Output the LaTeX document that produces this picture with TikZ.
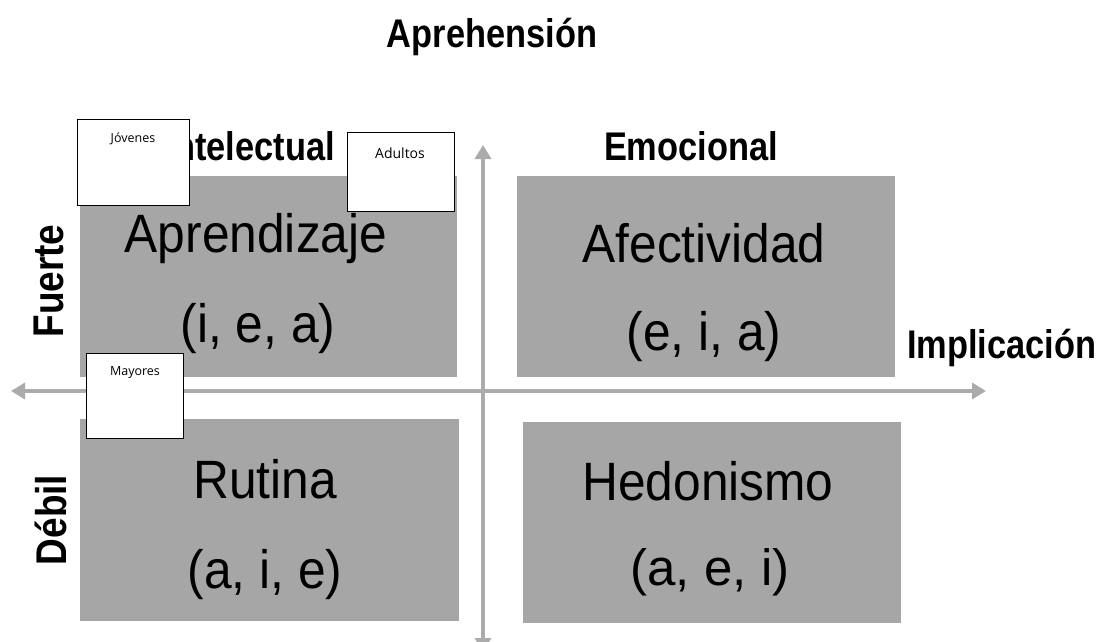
\documentclass[tikz,border=0pt]{standalone}
\usepackage{fontspec}
\setmainfont{Liberation Sans}
\newfontfamily\boldnarrow[FakeStretch=0.86]{Liberation Sans}
\newfontfamily\quadfont[FakeStretch=0.92]{Liberation Sans}
\newfontfamily\tagfont{Open Sans}
\usetikzlibrary{arrows.meta}
\definecolor{quadgray}{HTML}{A6A6A6}
\definecolor{axisgray}{HTML}{ABABAB}
\begin{document}
\begin{tikzpicture}[x=1pt,y=-1pt,
  quad/.style={fill=quadgray, draw=none},
  axisline/.style={draw=axisgray, line width=4pt, {Triangle[length=14pt,width=16pt]}-{Triangle[length=14pt,width=16pt]}},
  lab/.style={font=\boldnarrow\bfseries\fontsize{40}{44}\selectfont, inner sep=0pt},
  sidelab/.style={font=\boldnarrow\bfseries\fontsize{43}{47}\selectfont, inner sep=0pt, rotate=90, anchor=base},
  bigtxt/.style={font=\quadfont\fontsize{54}{60}\selectfont, inner sep=0pt, anchor=base},
  tagbox/.style={draw=black, line width=1pt, fill=white, anchor=north west, inner sep=0pt},
  tagtxt/.style={font=\tagfont, inner sep=0pt}]
\useasboundingbox (0,0) rectangle (1105,642);
\clip (0,0) rectangle (1105,642);

% quadrants
\fill[quad] (80,176) rectangle (457,377);
\fill[quad] (517,176) rectangle (895,377);
\fill[quad] (80,419) rectangle (459,621);
\fill[quad] (523,422) rectangle (901,623);

% axes
\coordinate (hl) at (11,391);
\coordinate (hr) at (986,391);
\coordinate (vt) at (483,145);
\coordinate (vb) at (483,652);
\draw[axisline] (hl) -- (hr);
\draw[axisline] (vb) -- (vt);

% labels
\node[lab, anchor=base] (aprehension) at (492,48) {Aprehensión};
\node[lab, anchor=base east] (intelectual) at (335,160) {Intelectual};
\node[lab, anchor=base] (emocional) at (691,160) {Emocional};
\node[lab, anchor=base west] (implicacion) at (907,358) {Implicación};
\node[sidelab] (fuerte) at (63,281) {Fuerte};
\node[sidelab] (debil) at (66,520) {Débil};

% quadrant texts
\node[bigtxt] (aprendizaje) at (256,252) {Aprendizaje};
\node[bigtxt] (iea) at (258,342) {(i, e, a)};
\node[bigtxt] (afectividad) at (704,262) {Afectividad};
\node[bigtxt] (eia) at (704,350) {(e, i, a)};
\node[bigtxt] (rutina) at (265,498) {Rutina};
\node[bigtxt] (aie) at (265,588) {(a, i, e)};
\node[bigtxt] (hedonismo) at (708,500) {Hedonismo};
\node[font=\fontsize{51}{56}\selectfont, inner sep=0pt, anchor=base] (aei) at (710,585) {(a, e, i)};

% tag boxes
\node[tagbox, minimum width=112pt, minimum height=86pt] (jovbox) at (77,119) {};
\node[tagtxt, font=\tagfont\fontsize{12.5}{14}\selectfont] (jovenes) at (133,139) {Jóvenes};
\node[tagbox, minimum width=107pt, minimum height=79pt] (adubox) at (347,132) {};
\node[tagtxt, font=\tagfont\fontsize{14}{16}\selectfont] (adultos) at (400,153) {Adultos};
\node[tagbox, minimum width=97pt, minimum height=85pt] (maybox) at (86,353) {};
\node[tagtxt, font=\tagfont\fontsize{12.5}{14}\selectfont] (mayores) at (135,373) {Mayores};
\end{tikzpicture}
\end{document}
